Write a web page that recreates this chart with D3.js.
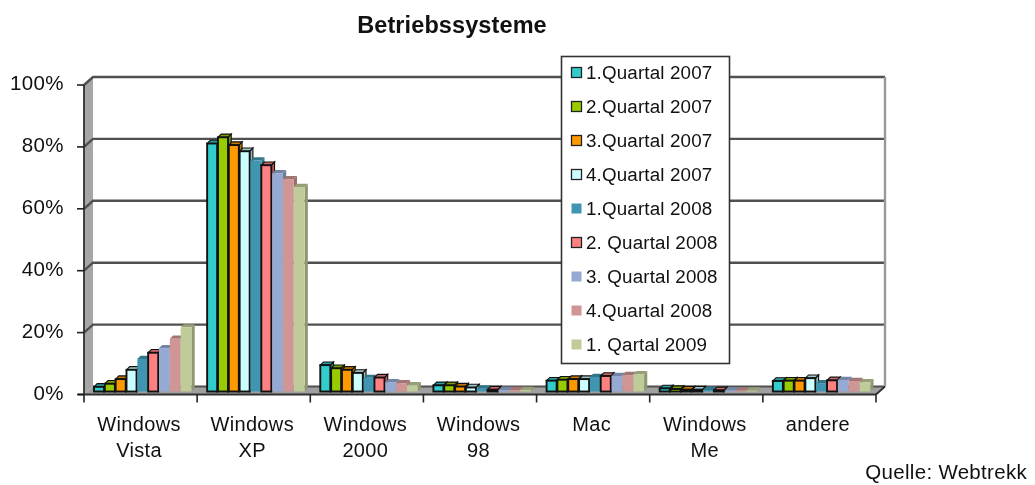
<!DOCTYPE html>
<html><head><meta charset="utf-8">
<script src="https://cdnjs.cloudflare.com/ajax/libs/d3/7.8.5/d3.min.js"></script>
<style>html,body{margin:0;padding:0;background:#fff}svg{display:block;filter:blur(0.4px)}text{font-family:"Liberation Sans",Arial,sans-serif;fill:#111}</style>
</head><body><svg id="c" width="1035" height="485"></svg>
<script>
const categories=[["Windows","Vista"],["Windows","XP"],["Windows","2000"],["Windows","98"],["Mac"],["Windows","Me"],["andere"]];
const seriesNames=["1.Quartal 2007","2.Quartal 2007","3.Quartal 2007","4.Quartal 2007","1.Quartal 2008","2. Quartal 2008","3. Quartal 2008","4.Quartal 2008","1. Qartal 2009"];
const colors=["#33CCCC","#99CC00","#FF9900","#CCFFFF","#4096B0","#FF8080","#95A9D3","#D09595","#BFCC99"];
const outlined=[1,1,1,1,0,1,0,0,0];
const vista=[1.5,2.5,4,7,10.5,12.5,14,17,20.7];
const xp=[80,82,79.5,77.5,74.5,73,70.4,68.5,66];
const win2000=[8.5,7.5,7,6,4.4,4.5,3,2.7,2];
const win98=[2,2,1.6,1.3,1,0.6,0.5,0.5,0.5];
const mac=[3.5,3.8,4,4,4.7,5,5,5.3,5.6];
const winMe=[1,0.8,0.6,0.6,0.5,0.4,0.3,0.3,0.3];
const andere=[3.4,3.5,3.5,4.3,2.7,3.6,3.7,3.4,3];
const values=[vista,xp,win2000,win98,mac,winMe,andere];
const yTicks=[0,20,40,60,80,100];

const svg=d3.select("#c");
const x0=d3.scaleBand().domain(d3.range(categories.length)).range([84,876]).paddingInner(0).paddingOuter(0);
const xb=d3.scaleBand().domain(d3.range(seriesNames.length)).range([10,107.5]);
const y=d3.scaleLinear().domain([0,100]).range([394.5,85]);
const dx=9,dy=-8;
const chart=svg.append("g");

chart.append("path").attr("d",`M84 ${y(0)}L84 ${y(100)}L${84+dx} ${y(100)+dy}L${84+dx} ${y(0)+dy}Z`).attr("fill","#A6A6A6");
chart.append("path").attr("d",`M84 ${y(0)}L${84+dx} ${y(0)+dy}L${876+dx} ${y(0)+dy}L876 ${y(0)}Z`).attr("fill","#A0A0A0");
yTicks.forEach(t=>{
  const yy=y(t);
  if(t>0) chart.append("path").attr("d",`M84 ${yy}L${84+dx} ${yy+dy}L${876+dx} ${yy+dy}`).attr("fill","none").attr("stroke","#505050").attr("stroke-width",2.4);
  else chart.append("line").attr("x1",84+dx).attr("x2",876+dx).attr("y1",yy+dy).attr("y2",yy+dy).attr("stroke","#505050").attr("stroke-width",1.8);
  chart.append("text").attr("x",64).attr("y",yy+5).attr("text-anchor","end").attr("font-size",20.5).attr("letter-spacing",0.4).text(t+"%");
});
chart.append("line").attr("x1",876+dx).attr("x2",876+dx).attr("y1",y(100)+dy).attr("y2",y(0)+dy).attr("stroke","#999").attr("stroke-width",2.4);
chart.append("path").attr("d",`M876 ${y(0)}L${876+dx} ${y(0)+dy}`).attr("stroke","#303030").attr("stroke-width",1.8);

const bw=xb.bandwidth(), bdx=3.2, bdy=-3.2, base=d3.scaleLinear().domain([0,100]).range([391.5,81.5]);
values.forEach((vals,ci)=>{
  const g=chart.append("g");
  vals.forEach((v,si)=>{
    const xl=x0(ci)+xb(si), top=base(v), bot=base(0), c=d3.color(colors[si]);
    const st=outlined[si]?"#111":"none", sw=outlined[si]?1.9:0;
    const w=bw-(outlined[si]?0.8:0);
    const b=g.append("g");
    b.append("path").attr("d",`M${xl+w} ${top}L${xl+w+bdx} ${top+bdy}L${xl+w+bdx} ${bot+bdy}L${xl+w} ${bot}Z`).attr("fill",c.darker(0.85)).attr("stroke",st).attr("stroke-width",sw*0.6);
    b.append("path").attr("d",`M${xl} ${top}L${xl+bdx} ${top+bdy}L${xl+w+bdx} ${top+bdy}L${xl+w} ${top}Z`).attr("fill",c.darker(0.7)).attr("stroke",st).attr("stroke-width",sw*0.6);
    b.append("rect").attr("x",xl).attr("y",top).attr("width",w).attr("height",Math.max(0,bot-top)).attr("fill",colors[si]).attr("stroke",st).attr("stroke-width",sw);
  });
});

chart.append("line").attr("x1",84).attr("x2",84).attr("y1",y(100)).attr("y2",y(0)).attr("stroke","#303030").attr("stroke-width",1.8);
chart.append("line").attr("x1",78).attr("x2",876).attr("y1",y(0)).attr("y2",y(0)).attr("stroke","#303030").attr("stroke-width",2);
yTicks.forEach(t=>chart.append("line").attr("x1",77).attr("x2",84).attr("y1",y(t)).attr("y2",y(t)).attr("stroke","#222").attr("stroke-width",1.6));
d3.range(categories.length+1).forEach(i=>{
  const xx=84+i*x0.step();
  chart.append("line").attr("x1",xx).attr("x2",xx).attr("y1",y(0)).attr("y2",y(0)+8).attr("stroke","#222").attr("stroke-width",1.6);
});
categories.forEach((lines,i)=>{
  const t=chart.append("text").attr("text-anchor","middle").attr("font-size",20).attr("letter-spacing",0.35);
  lines.forEach((s,k)=>t.append("tspan").attr("x",x0(i)+x0.bandwidth()/2-1.5).attr("y",431+k*26).text(s));
});

const lg=chart.append("g");
lg.append("rect").attr("x",561.5).attr("y",56.5).attr("width",168).attr("height",307).attr("fill","#fff").attr("stroke","#333").attr("stroke-width",1.6);
seriesNames.forEach((s,i)=>{
  const cy=73+i*34;
  lg.append("rect").attr("x",571.5).attr("y",cy-5.5).attr("width",10).attr("height",10).attr("fill",colors[i]).attr("stroke",outlined[i]?"#222":"none").attr("stroke-width",1.3);
  lg.append("text").attr("x",586).attr("y",cy+6).attr("font-size",18.8).attr("letter-spacing",0.15).text(s);
});

svg.append("text").attr("x",452).attr("y",33).attr("text-anchor","middle").attr("font-size",23.5).attr("font-weight","bold").attr("letter-spacing",0.1).text("Betriebssysteme");
svg.append("text").attr("x",1027).attr("y",479).attr("text-anchor","end").attr("font-size",20.5).attr("letter-spacing",0.3).text("Quelle: Webtrekk");
</script></body></html>
